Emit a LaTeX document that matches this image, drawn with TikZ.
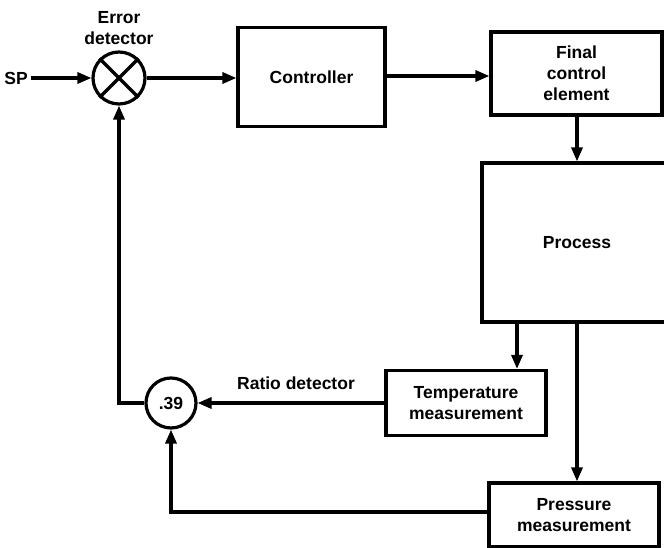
\documentclass[tikz,border=0pt]{standalone}
\usepackage{fontspec}
\setmainfont{Liberation Sans}
\usetikzlibrary{arrows.meta,calc}
\tikzset{
  txt/.style={font=\fontsize{17.5}{21}\selectfont\bfseries},
  blk/.style={txt,draw,line width=3.2pt,rectangle,inner sep=0pt,align=center},
  circ/.style={txt,draw,line width=3.2pt,circle,inner sep=0pt},
  lbl/.style={txt,align=center,inner sep=0pt},
  conn/.style={line width=3.2pt},
  arr/.style={conn,-{Triangle[length=14pt,width=11pt]}}
}
\begin{document}
\begin{tikzpicture}[x=1pt,y=-1pt]
\clip (0,0) rectangle (664,548);
\fill[white] (0,0) rectangle (664,548);
\node[lbl] (sp) at (16,78) {SP};
\node[circ,minimum size=52pt] (ed) at (119,78) {};
\node[lbl] (edl) at (119,28) {Error\\detector};
\node[blk,minimum width=147pt,minimum height=99pt] (ctrl) at (311.5,77) {Controller};
\node[blk,minimum width=171pt,minimum height=83pt] (fce) at (576.5,73.5) {Final\\control\\element};
\node[blk,minimum width=190pt,minimum height=159pt] (proc) at (577,242.5) {Process};
\node[blk,minimum width=160pt,minimum height=65pt] (temp) at (466,403) {Temperature\\measurement};
\node[blk,minimum width=170pt,minimum height=64pt] (press) at (574,515) {Pressure\\measurement};
\node[circ,minimum size=50pt] (r39) at (171,403) {.39};
\node[lbl] (rd) at (296,383) {Ratio detector};
\coordinate (tx) at (517,0);
\coordinate (px) at (577,0);
\draw[conn] (ed.45) -- (ed.225);
\draw[conn] (ed.135) -- (ed.315);
\draw[arr] ([xshift=3pt]sp.east) -- (ed.west);
\draw[arr] (ed.east) -- (ed.east -| ctrl.west);
\draw[arr] (ctrl.east |- 0,76) -- (fce.west |- 0,76);
\draw[arr] (fce.south -| px) -- (proc.north -| px);
\draw[arr] (proc.south -| tx) -- (temp.north -| tx);
\draw[arr] (proc.south -| px) -- (press.north -| px);
\draw[arr] (temp.west |- r39) -- (r39.east);
\draw[arr] (press.west |- 0,512) -| (r39.south);
\draw[arr] (r39.west) -| (ed.south);
\end{tikzpicture}
\end{document}
